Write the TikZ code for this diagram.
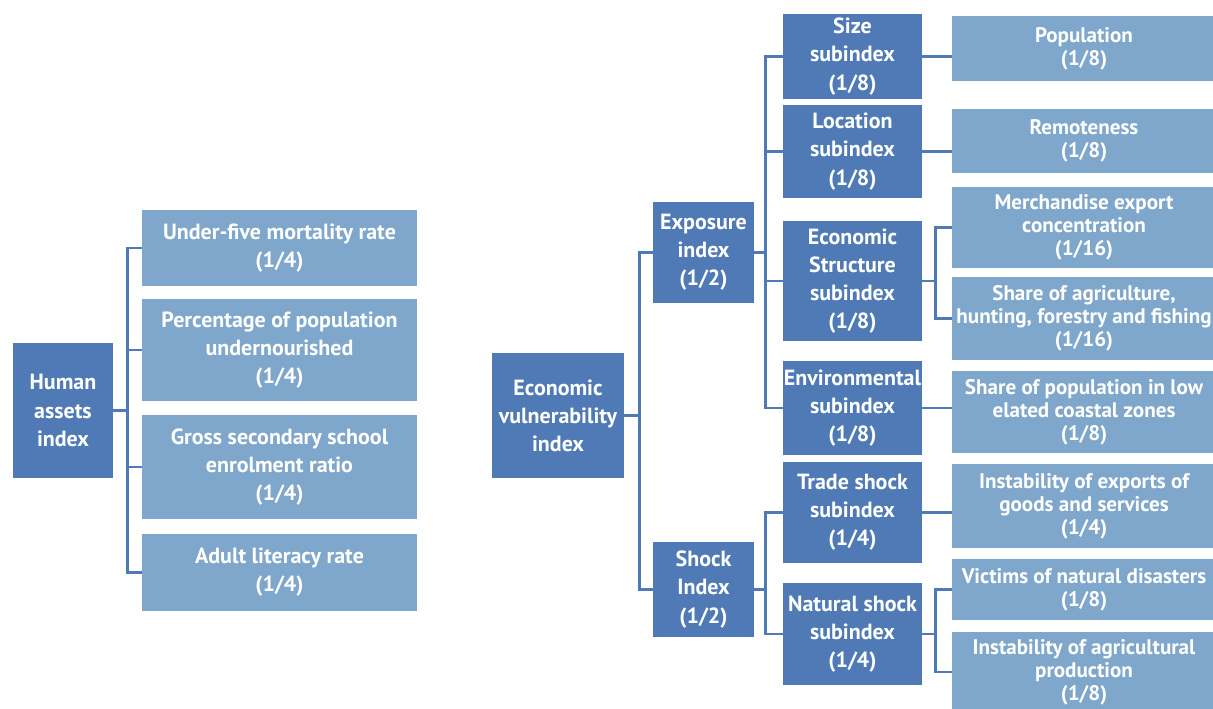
\documentclass[tikz,border=0pt]{standalone}
\usepackage{fontspec}
\setmainfont{PT Sans}
\definecolor{darkblue}{RGB}{79,122,181}
\definecolor{lightblue}{RGB}{127,166,203}
\tikzset{
  box/.style 2 args={inner sep=0pt, minimum width=#1*0.02cm, minimum height=#2*0.02cm,
    align=center, text=white, font=\bfseries\fontsize{12.5}{16}\selectfont},
  dark/.style={fill=darkblue},
  light/.style={fill=lightblue},
  leaf/.style={fill=lightblue, font=\bfseries\fontsize{12}{13}\selectfont},
  link/.style={draw=darkblue, line width=1.4pt},
}
\begin{document}
\begin{tikzpicture}[x=0.02cm, y=-0.02cm]
    \useasboundingbox (0,0) rectangle (1213,708);
    % human assets
    \node[box={100}{135}, dark] (hai) at (63,410.5) {Human\\assets\\index};
    \node[box={275}{76}, light] (u5) at (279.5,248) {Under-five mortality rate\\(1/4)};
    \node[box={275}{102}, light] (pct) at (279.5,350) {Percentage of population\\undernourished\\(1/4)};
    \node[box={275}{104}, light] (gross) at (279.5,467) {Gross secondary school\\enrolment ratio\\(1/4)};
    \node[box={275}{77}, light] (adult) at (279.5,572.5) {Adult literacy rate\\(1/4)};
    \foreach \c in {u5,pct,gross,adult}
        \draw[link] (hai.east) -- ++(14,0) |- (\c.west);

    % economic vulnerability
    \node[box={132}{125}, dark] (evi) at (558,415.5) {Economic\\vulnerability\\index};
    \node[box={101}{101}, dark] (expo) at (703.5,252.5) {Exposure\\index\\(1/2)};
    \node[box={101}{95}, dark] (shock) at (703.5,589.5) {Shock\\Index\\(1/2)};
    \node[box={139}{85}, dark] (size) at (852.5,56.5) {Size\\subindex\\(1/8)};
    \node[box={139}{93}, dark] (loc) at (852.5,151.5) {Location\\subindex\\(1/8)};
    \node[box={139}{120}, dark] (econ) at (852.5,281) {Economic\\Structure\\subindex\\(1/8)};
    \node[box={139}{94}, dark] (env) at (852.5,408) {Environmental\\subindex\\(1/8)};
    \node[box={139}{101}, dark] (trade) at (852.5,512.5) {Trade shock\\subindex\\(1/4)};
    \node[box={139}{102}, dark] (nat) at (852.5,634) {Natural shock\\subindex\\(1/4)};
    \node[box={264}{65}, leaf] (pop) at (1084,48.5) {Population\\(1/8)};
    \node[box={264}{64}, leaf] (rem) at (1084,141) {Remoteness\\(1/8)};
    \node[box={264}{81}, leaf] (merch) at (1084,227.5) {Merchandise export\\concentration\\(1/16)};
    \node[box={264}{83}, leaf] (agri) at (1084,318.5) {Share of agriculture,\\hunting, forestry and fishing\\(1/16)};
    \node[box={264}{82}, leaf] (coast) at (1084,412) {Share of population in low\\elated coastal zones\\(1/8)};
    \node[box={264}{84}, leaf] (exports) at (1084,506) {Instability of exports of\\goods and services\\(1/4)};
    \node[box={264}{61}, leaf] (victims) at (1084,589.5) {Victims of natural disasters\\(1/8)};
    \node[box={264}{80}, leaf] (agprod) at (1084,672) {Instability of agricultural\\production\\(1/8)};

    \foreach \c in {expo,shock}
        \draw[link] (evi.east) -- ++(15,0) |- (\c.west);
    \foreach \c in {size,loc,econ,env}
        \draw[link] (expo.east) -- ++(11,0) |- (\c.west);
    \foreach \c in {trade,nat}
        \draw[link] (shock.east) -- ++(11,0) |- (\c.west);
    \draw[link] (size.east) -- (size.east -| pop.west);
    \draw[link] (loc.east) -- (loc.east -| rem.west);
    \draw[link] (env.east) -- (env.east -| coast.west);
    \draw[link] (trade.east) -- (trade.east -| exports.west);
    \foreach \c in {merch,agri}
        \draw[link] (econ.east) -- ++(13,0) |- (\c.west);
    \foreach \c in {victims,agprod}
        \draw[link] (nat.east) -- ++(13,0) |- (\c.west);
\end{tikzpicture}
\end{document}
